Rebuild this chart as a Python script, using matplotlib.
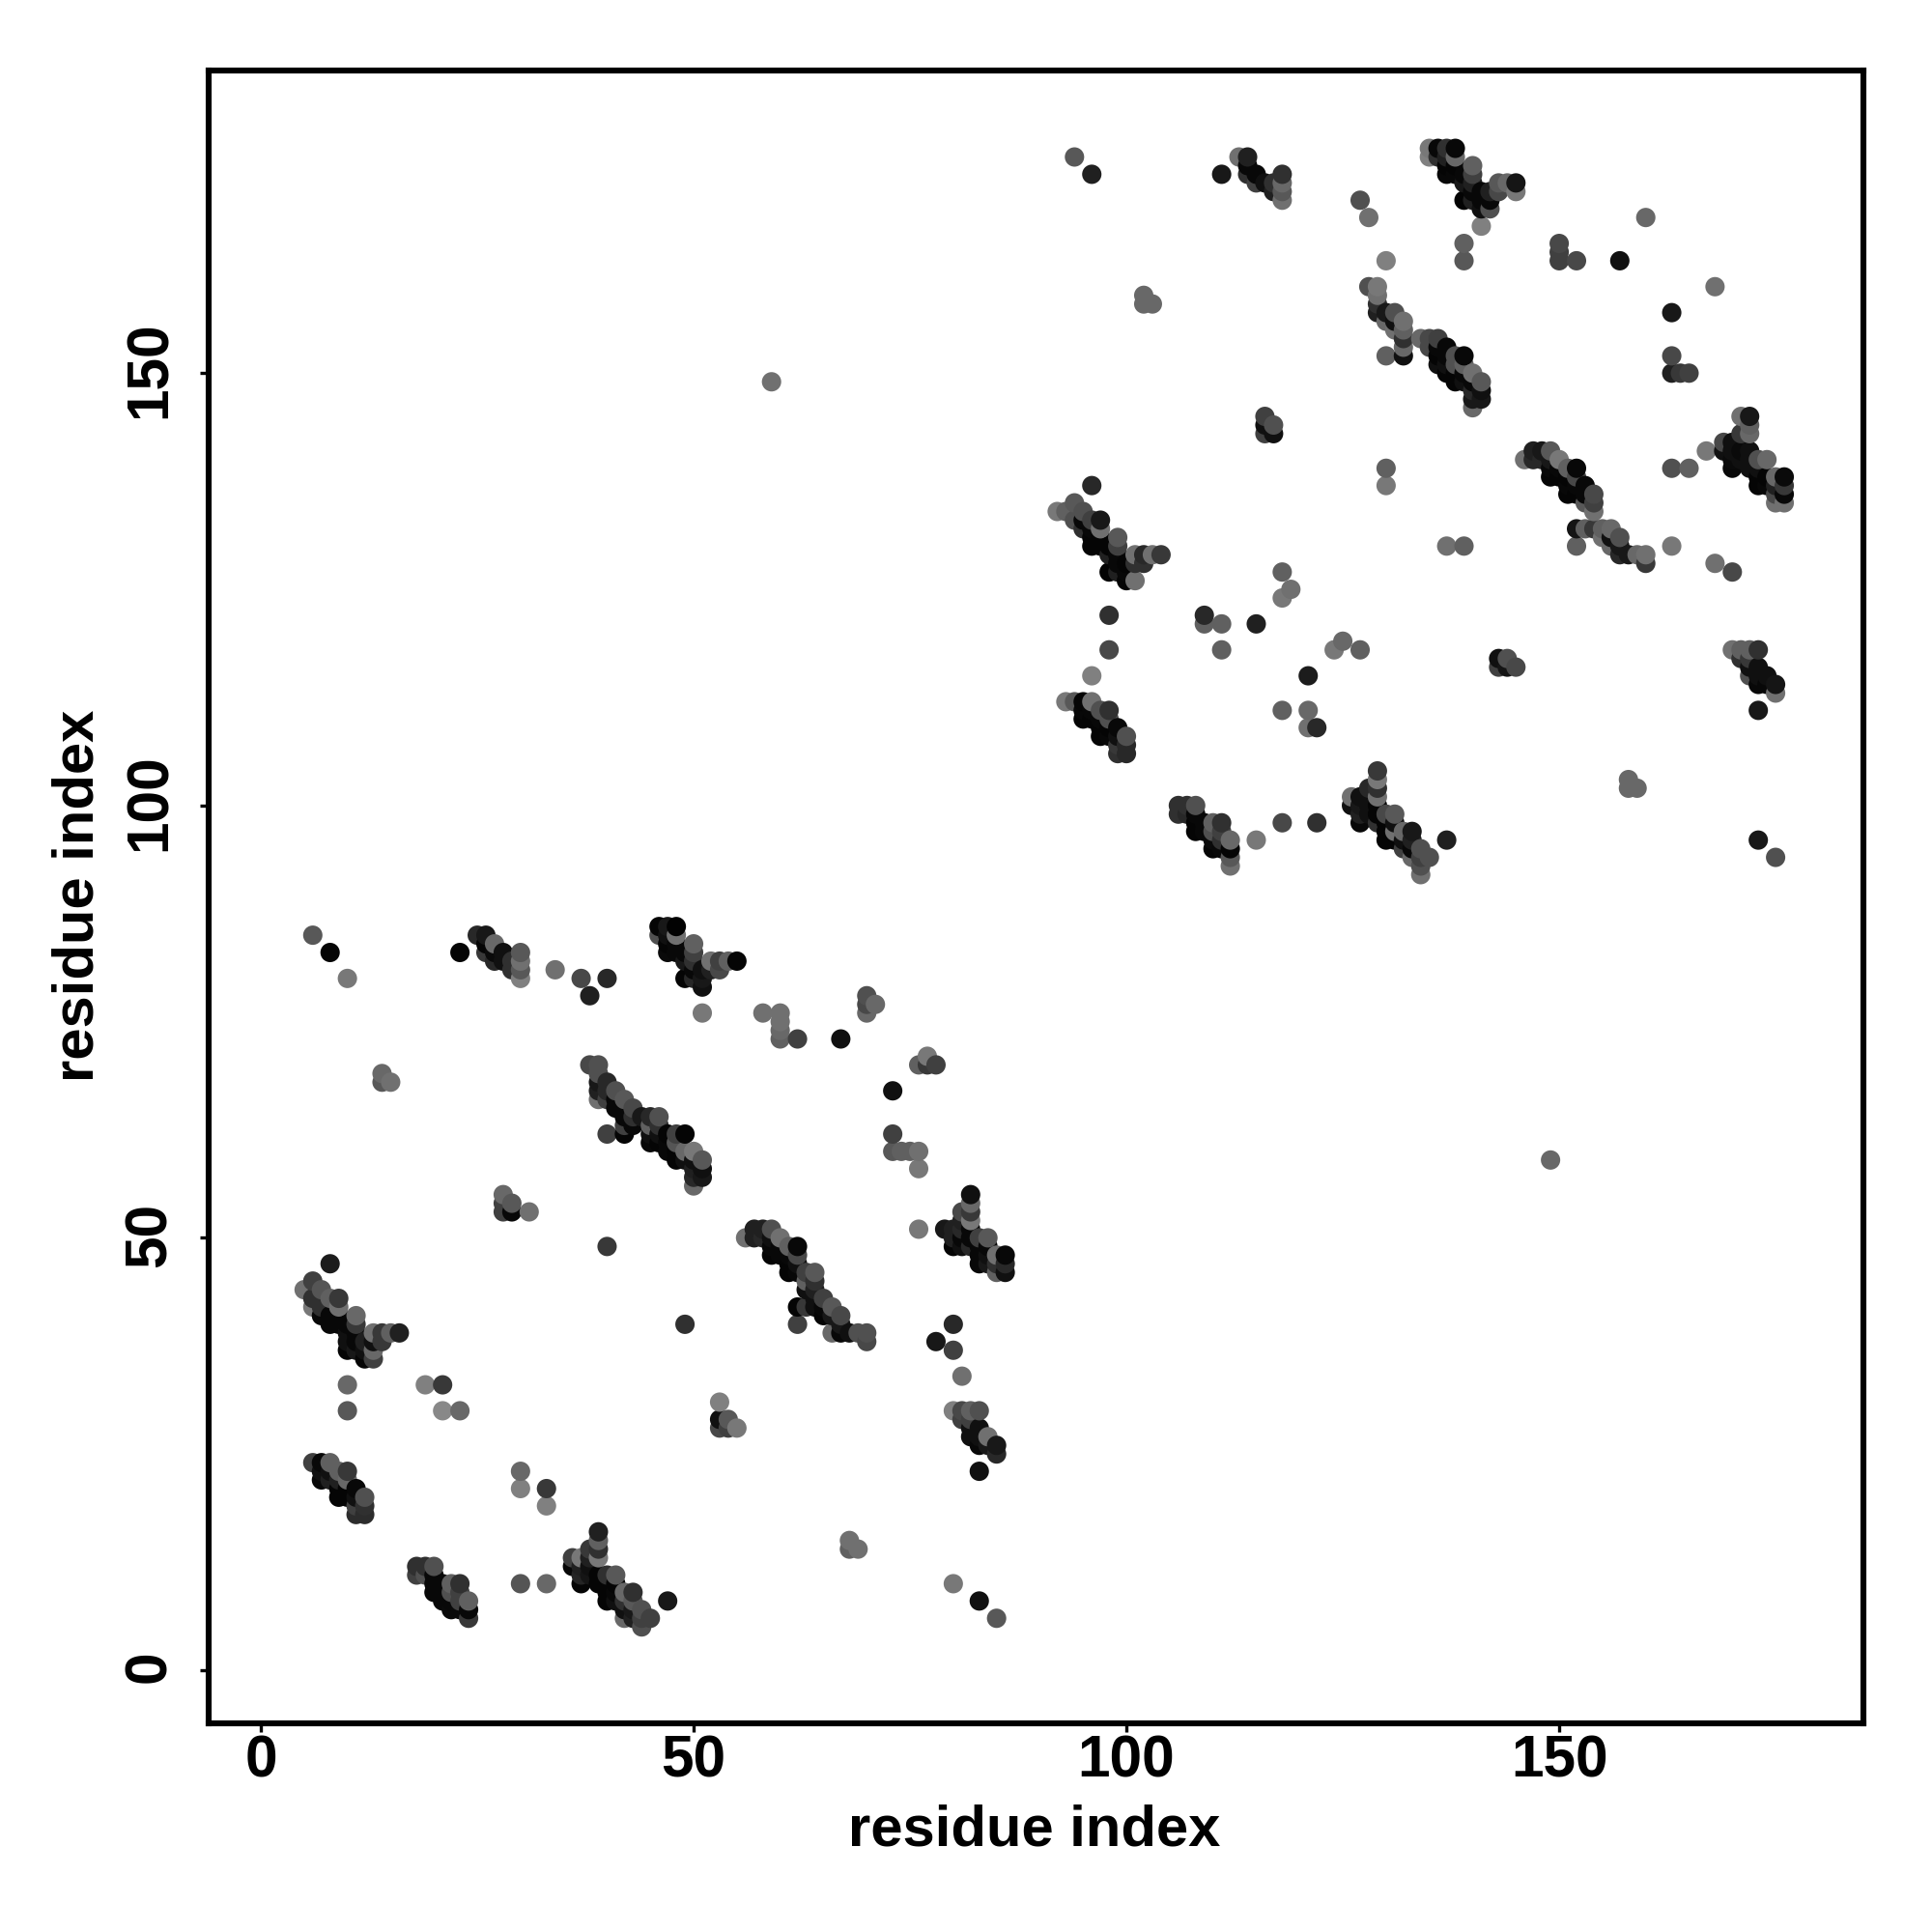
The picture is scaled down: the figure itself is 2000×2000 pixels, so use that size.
import numpy as np
import matplotlib
matplotlib.use("Agg")
import matplotlib.pyplot as plt
from matplotlib.transforms import ScaledTranslation

# contacts as (residue i, residue j, grey level), one list per cluster
c01 = [(8,47,0x1c),(6,45,0x40),(5,44,0x70),(7,44,0x55),(6,43,0x30),(8,43,0x60),(9,43,0x38),(6,42,0x78),(7,42,0x30),
       (9,42,0x70),(7,41,0x08),(8,41,0x08),(9,41,0x08),(8,40,0x08),(9,40,0x08),(10,40,0x08),(11,41,0x68),(11,40,0x38),(10,39,0x10),
       (11,39,0x08),(10,37,0x05),(11,38,0x08),(10,38,0x10),(11,37,0x18),(12,36,0x05),(12,38,0x20),(12,37,0x10),(13,39,0x70),
       (13,38,0x10),(13,37,0x68),(13,36,0x40),(14,39,0x38),(14,38,0x38),(15,39,0x60),(16,39,0x20)]
c02 = [(10,33,0x68),(10,30,0x58),(19,33,0x80),(21,33,0x38),(21,30,0x88),(23,30,0x68),(40,49,0x38),(49,40,0x30),
       (30,23,0x68),(30,21,0x80),(33,21,0x38),(33,19,0x80),(30,10,0x55),(33,10,0x68),(47,8,0x18),(85,6,0x58),(83,8,0x10),
       (80,10,0x78),(68,15,0x70),(68,14,0x60),(69,14,0x70),(59,149,0x70),(149,59,0x68)]
c03 = [(53,31,0x80),(53,29,0x10),(53,28,0x48),(54,29,0x58),(54,28,0x40),(55,28,0x78)]
c04 = [(6,24,0x40),(7,24,0x08),(8,24,0x60),(7,23,0x10),(8,23,0x10),(9,23,0x60),(10,23,0x38),(7,22,0x08),(8,22,0x20),(9,22,0x20),
       (10,22,0x68),(9,20,0x05),(9,21,0x05),(10,21,0x05),(10,20,0x05),(11,21,0x08),(11,20,0x10),(12,20,0x50),(11,19,0x40),(12,19,0x30),
       (11,18,0x2c),(12,18,0x2c)]
c05 = [(18,12,0x30),(19,12,0x30),(20,12,0x50),(18,11,0x40),(19,11,0x50),(20,11,0x08),(20,10,0x08),(21,10,0x08),(20,9,0x08),(22,10,0x60),
       (23,10,0x30),(21,9,0x08),(22,9,0x50),(23,9,0x40),(23,8,0x40),(24,8,0x60),(22,7,0x0a),(23,7,0x0a),(24,7,0x08),(24,6,0x38),(21,8,0x08),(22,8,0x08)]
c06 = [(39,16,0x20),(39,15,0x60),(39,14,0x30),(39,13,0x78),(38,14,0x38),(36,13,0x40),(37,13,0x78),(38,13,0x20),(36,12,0x08),(37,12,0x20),
       (38,12,0x10),(37,11,0x25),(38,11,0x15),(37,10,0x05),(40,11,0x30),(41,11,0x58),(39,11,0x05),(39,10,0x05),(40,10,0x05),(40,8,0x05),
       (41,8,0x10),(40,9,0x05),(41,9,0x08),(41,10,0x05),(42,9,0x68),(43,9,0x30),(42,8,0x30),(43,8,0x58),(42,7,0x10),(42,6,0x68),(43,7,0x18),(44,7,0x50),
       (43,6,0x20),(44,6,0x40),(44,5,0x50),(45,6,0x40)]
c07 = [(51,76,0x78),(58,76,0x70),(60,76,0x70),(60,75,0x70),(60,74,0x68),(60,73,0x60),(62,73,0x40),(67,73,0x10),(70,76,0x68),(70,77,0x48),(71,77,0x68),
       (70,78,0x50),(77,71,0x78),(76,70,0x60),(77,70,0x38),(78,70,0x40),(73,67,0x10),(73,62,0x40),(73,60,0x58),(74,60,0x60),(75,60,0x60),
       (76,60,0x70),(76,58,0x78),(76,51,0x78)]
c08 = [(6,85,0x58),(8,83,0x05),(10,80,0x78),(14,69,0x68),(14,68,0x58),(15,68,0x70),(34,81,0x70),(37,80,0x48),(40,80,0x28),(38,78,0x20)]
c09 = [(23,83,0x05),(25,85,0x28),(26,85,0x18),(26,83,0x38),(27,84,0x68),(26,84,0x05),(27,82,0x28),(28,82,0x10),(27,83,0x0a),(28,83,0x10),
       (29,82,0x30),(29,81,0x30),(30,83,0x58),(30,82,0x70),(30,81,0x58),(30,80,0x80)]
c10 = [(46,86,0x05),(47,86,0x18),(48,86,0x02),(46,85,0x50),(47,85,0x10),(48,85,0x70),(47,84,0x05),(48,84,0x08),(50,84,0x60),(47,83,0x0a),
       (48,83,0x08),(49,83,0x08),(50,83,0x40),(49,82,0x18),(50,82,0x30),(49,80,0x05),(50,81,0x08),(50,80,0x28),(51,81,0x10),(51,80,0x18),
       (51,79,0x10),(52,82,0x70),(52,81,0x20),(53,82,0x40),(53,81,0x48),(54,82,0x60),(55,82,0x05)]
c11 = [(38,70,0x48),(39,70,0x50),(39,69,0x50),(39,68,0x18),(39,67,0x20),(39,66,0x70),(40,68,0x28),(40,67,0x28),(40,66,0x40),(41,67,0x50),(41,66,0x08),(42,66,0x58),
       (41,65,0x08),(42,65,0x08),(43,65,0x48),(42,64,0x08),(44,64,0x18),(45,64,0x28),(46,64,0x50),(42,63,0x40),(43,64,0x30),(43,63,0x08),(42,62,0x05),
       (40,62,0x40),(45,63,0x60),(46,63,0x30),(45,61,0x08),(45,62,0x10),(46,62,0x10),(46,61,0x05),(47,62,0x05),(48,62,0x40),(49,62,0x05),(48,61,0x55),
       (47,61,0x08),(47,60,0x08),(48,59,0x05),(49,60,0x68),(50,60,0x78),(48,60,0x05),(49,59,0x10),(51,59,0x58),(50,59,0x10),(50,58,0x20),(51,58,0x10),
       (50,57,0x28),(51,57,0x18),(50,56,0x68)]
c12 = [(28,55,0x68),(28,54,0x40),(29,54,0x58),(28,53,0x40),(29,53,0x08),(31,53,0x70)]
c13 = [(56,50,0x70),(57,51,0x20),(58,51,0x20),(59,51,0x50),(57,50,0x20),(58,50,0x28),(59,50,0x10),(60,50,0x70),(59,49,0x08),(60,49,0x08),(61,49,0x60),
       (62,49,0x08),(59,48,0x05),(60,48,0x08),(61,48,0x08),(62,48,0x48),(61,47,0x05),(61,46,0x05),(62,47,0x10),(62,46,0x08),(63,46,0x40),(64,46,0x58),
       (63,45,0x60),(64,45,0x30),(63,44,0x10),(64,44,0x20),(64,43,0x10),(65,43,0x40),(65,42,0x08),(66,42,0x58),(67,41,0x48),(62,42,0x05),(63,42,0x38),(64,42,0x10),
       (65,41,0x05),(66,41,0x18),(62,40,0x40),(66,39,0x68),(67,39,0x08),(68,39,0x10),(67,40,0x18),(69,39,0x50),(70,39,0x50),(70,38,0x48)]
c14 = [(80,40,0x28),(78,38,0x18),(80,37,0x40),(81,34,0x70)]
c15 = [(82,55,0x10),(82,54,0x68),(82,53,0x38),(81,53,0x48),(82,52,0x78),(79,51,0x18),(80,51,0x20),(81,51,0x28),(81,52,0x20),(80,50,0x20),(81,50,0x08),(82,51,0x08),
       (82,50,0x08),(83,50,0x40),(84,50,0x58),(80,49,0x05),(81,49,0x10),(82,49,0x28),(83,49,0x08),(83,48,0x08),(83,47,0x08),(84,49,0x08),(84,48,0x10),(85,48,0x70),(86,48,0x08),
       (84,47,0x18),(85,47,0x30),(86,47,0x28),(85,46,0x60),(86,46,0x10)]
c16 = [(80,30,0x80),(81,30,0x48),(82,30,0x60),(83,30,0x50),(81,29,0x40),(82,29,0x40),(82,28,0x10),(82,27,0x10),(83,28,0x10),(83,27,0x10),(84,27,0x70),
       (83,26,0x08),(84,26,0x18),(85,26,0x18),(85,25,0x28),(83,23,0x10)]

c21 = [(94,175,0x58),(96,173,0x20),(111,173,0x18),(127,170,0x50),(128,168,0x70),(130,163,0x80),(102,159,0x68),(102,158,0x68),(103,158,0x68),
       (139,165,0x60),(139,163,0x58),(141,167,0x80),(157,163,0x10),(150,165,0x48),(150,164,0x40),(150,163,0x40),(152,163,0x48),
       (160,168,0x68),(168,160,0x70),(163,157,0x18),(163,152,0x48),(163,150,0x20),(164,150,0x38),(165,150,0x40)]
c22 = [(113,175,0x70),(114,175,0x20),(114,174,0x08),(114,173,0x30),(115,173,0x08),(115,172,0x40),(116,172,0x10),(117,172,0x30),(117,171,0x20),
       (118,173,0x30),(118,172,0x68),(118,171,0x58),(118,170,0x70)]
c23 = [(135,176,0x78),(136,176,0x08),(137,176,0x30),(138,176,0x08),(135,175,0x80),(136,175,0x30),(138,175,0x68),(137,175,0x20),(137,174,0x05),
       (138,174,0x05),(140,174,0x60),(137,173,0x08),(138,173,0x08),(139,173,0x08),(140,173,0x40),(139,172,0x18),(140,172,0x20),(139,170,0x03),(140,171,0x08),
       (140,170,0x20),(141,171,0x08),(141,170,0x08),(141,169,0x10),(142,169,0x50),(142,171,0x20),(142,170,0x08),(143,172,0x58),(143,171,0x48),(144,172,0x68),(145,172,0x15),
       (145,171,0x78)]
c24 = [(128,160,0x50),(129,160,0x78),(129,159,0x70),(129,158,0x30),(129,157,0x20),(130,157,0x18),(131,157,0x50),(130,156,0x68),(131,156,0x10),
       (132,156,0x70),(132,155,0x60),(131,155,0x70),(132,154,0x30),(132,153,0x68),(132,152,0x10),(130,152,0x60)]
c25 = [(134,154,0x68),(135,154,0x48),(136,154,0x40),(135,153,0x48),(136,153,0x08),(136,152,0x05),(137,153,0x08),(137,152,0x08),(138,152,0x50),(139,152,0x08),(136,151,0x10),
       (137,151,0x10),(138,151,0x50),(139,151,0x60),(137,150,0x05),(138,150,0x05),(139,150,0x08),(140,150,0x70),(138,149,0x05),(139,149,0x10),(140,149,0x08),(141,149,0x58),
       (140,148,0x28),(141,148,0x10),(140,147,0x18),(141,147,0x18),(140,146,0x68)]
c26 = [(116,145,0x40),(116,144,0x10),(117,144,0x50),(116,143,0x40),(117,143,0x10),(130,139,0x60),(130,137,0x78)]
c27 = [(146,140,0x70),(147,141,0x20),(148,141,0x18),(149,141,0x58),(147,140,0x28),(148,140,0x28),(149,140,0x18),(150,140,0x78),(151,139,0x60),(152,139,0x08),
       (149,139,0x08),(150,139,0x08),(150,138,0x05),(149,138,0x05),(151,138,0x05),(152,138,0x48),(151,136,0x05),(152,136,0x05),(153,136,0x08),(154,136,0x48),(154,135,0x40),
       (153,135,0x58),(154,134,0x70),(152,137,0x08),(151,137,0x08),(153,137,0x08)]
c28 = [(152,132,0x15),(153,132,0x60),(154,132,0x38),(155,132,0x60),(156,132,0x68),(155,131,0x70),(156,131,0x10),(157,131,0x50),(156,130,0x68),
       (157,130,0x18),(157,129,0x28),(158,129,0x18),(159,129,0x68),(160,129,0x70),(160,128,0x38),(152,130,0x60)]
c29 = [(137,130,0x70),(139,130,0x60),(163,130,0x78),(168,128,0x70),(170,127,0x48),(163,139,0x50),(165,139,0x60),(167,141,0x78),
       (127,118,0x60),(158,103,0x68),(158,102,0x68),(159,102,0x68),(173,96,0x18),(137,96,0x20),(175,94,0x50)]
c30 = [(171,145,0x70),(172,145,0x18),(172,144,0x60),(172,143,0x68),(171,143,0x38),(169,142,0x48),(170,142,0x10),(170,141,0x10),(171,141,0x0a),(169,141,0x10),(170,139,0x08),
       (170,140,0x0a),(171,140,0x10),(172,141,0x10),(172,140,0x10),(173,140,0x50),(174,140,0x68),(172,139,0x10),(173,139,0x10),(173,138,0x05),(174,138,0x05),(173,137,0x05),
       (175,138,0x68),(176,138,0x0a),(176,137,0x38),(175,136,0x48),(176,136,0x08),(175,135,0x70),(176,135,0x70),(174,137,0x08),(175,137,0x20)]
c31 = [(143,117,0x10),(144,117,0x50),(143,116,0x40),(144,116,0x15),(145,116,0x48)]
c32 = [(170,118,0x70),(171,118,0x60),(172,118,0x60),(173,118,0x30),(171,117,0x30),(172,117,0x38),(172,116,0x10),(173,116,0x10),(173,115,0x10),(172,115,0x50),
       (173,114,0x08),(175,114,0x15),(174,114,0x08),(174,115,0x10),(175,113,0x70),(173,111,0x18)]
c33 = [(96,137,0x28),(92,134,0x78),(93,134,0x60),(94,135,0x58),(95,134,0x50),(94,133,0x50),(96,133,0x40),(97,133,0x18),(95,133,0x08),(95,132,0x30),
       (96,132,0x08),(97,132,0x70),(96,131,0x05),(97,131,0x05),(96,130,0x05),(97,130,0x05),(98,130,0x05),(99,131,0x58),(99,130,0x40),(98,129,0x20),(99,129,0x08),(98,127,0x03),
       (99,128,0x08),(99,127,0x20),(100,128,0x05),(100,127,0x08),(100,126,0x05),(101,126,0x70),(101,129,0x70),(101,128,0x30),(102,129,0x28),(102,128,0x30),
       (103,129,0x70),(104,129,0x38)]
c34 = [(98,122,0x30),(98,118,0x48),(96,115,0x80),(109,122,0x28),(109,121,0x60),(111,121,0x60),(111,118,0x60),(115,121,0x20),(118,127,0x60),(119,125,0x70),
       (118,124,0x78),(125,119,0x68),(124,118,0x78),(121,115,0x1c),(118,111,0x60),(121,111,0x68),(121,109,0x70),(122,109,0x28)]
c35 = [(93,112,0x78),(94,112,0x58),(95,112,0x05),(96,112,0x70),(95,111,0x08),(96,111,0x08),(97,111,0x50),(98,111,0x30),(95,110,0x05),(96,110,0x05),(97,110,0x08),
       (98,110,0x50),(97,108,0x05),(98,109,0x05),(97,109,0x05),(98,108,0x08),(99,109,0x08),(99,108,0x10),(100,108,0x50),(99,107,0x38),(100,107,0x28),(99,106,0x30),(100,106,0x28)]
c36 = [(106,100,0x30),(107,100,0x30),(108,100,0x50),(106,99,0x30),(107,99,0x28),(108,99,0x08),(108,98,0x05),(109,98,0x08),(108,97,0x05),(110,98,0x60),(111,98,0x30),(109,97,0x08),
       (110,97,0x50),(110,96,0x0a),(112,96,0x68),(111,97,0x40),(111,96,0x30),(110,95,0x05),(111,95,0x08),(112,95,0x05),(112,94,0x58),(112,93,0x70)]
c37 = [(115,96,0x78),(118,98,0x48),(122,98,0x30)]
c38 = [(129,104,0x38),(129,103,0x78),(129,102,0x30),(128,102,0x28),(129,101,0x70),(126,101,0x70),(126,100,0x10),(127,100,0x18),(128,100,0x10),(127,101,0x10),
       (127,99,0x20),(127,98,0x08),(128,99,0x10),(129,100,0x05),(129,99,0x05),(130,99,0x48),(131,99,0x58),(129,98,0x30),(130,98,0x05),(130,97,0x05),(131,97,0x70),(131,98,0x10),
       (132,97,0x68),(133,97,0x18),(130,96,0x05),(131,96,0x05),(132,96,0x10),(132,95,0x40),(133,96,0x20),(133,95,0x08),(134,95,0x50),(133,94,0x68),(134,94,0x40),
       (135,94,0x50),(134,93,0x50),(134,92,0x70)]

clusters = [c01, c02, c03, c04, c05, c06, c07, c08, c09, c10, c11, c12, c13, c14, c15, c16,
            c21, c22, c23, c24, c25, c26, c27, c28, c29, c30, c31, c32, c33, c34, c35, c36, c37, c38]
tick_values = [0, 50, 100, 150]

contacts = np.array([p for c in clusters for p in c], dtype=float)
order = np.lexsort((contacts[:, 1], contacts[:, 0]))
contacts = contacts[order]
colors = [str(g / 255) for g in contacts[:, 2]]

plt.rcParams["font.family"] = ["Liberation Sans", "DejaVu Sans"]
plt.rcParams["font.weight"] = "bold"

fig = plt.figure(figsize=(10, 10), dpi=200)
ax = fig.add_axes([0.108, 0.108, 0.8563, 0.8555])
ax.scatter(contacts[:, 0], contacts[:, 1], s=52, c=colors, linewidths=0, zorder=3)
ax.set_xlim(-6.03, 185.1)
ax.set_ylim(-6.15, 185.0)
for side in ax.spines.values():
    side.set_linewidth(2.2)
ax.set_xticks(tick_values)
ax.set_yticks(tick_values)
ax.tick_params(length=3.3, width=1.2, labelsize=21.8)
ax.tick_params(axis="x", pad=0.8)
ax.tick_params(axis="y", pad=8)
plt.setp(ax.get_yticklabels(), rotation=90, ha="center", va="bottom", rotation_mode="anchor")
nudge = ScaledTranslation(0, 1.2 / 72, fig.dpi_scale_trans)
for lab in ax.get_yticklabels():
    lab.set_transform(lab.get_transform() + nudge)
fig.text(0.5355, 0.0525, "residue index", ha="center", va="center", fontsize=21.5, fontweight="bold")
fig.text(0.0405, 0.5365, "residue index", ha="center", va="center", rotation=90, fontsize=21.5, fontweight="bold")
fig.savefig("out.png", dpi=200)
